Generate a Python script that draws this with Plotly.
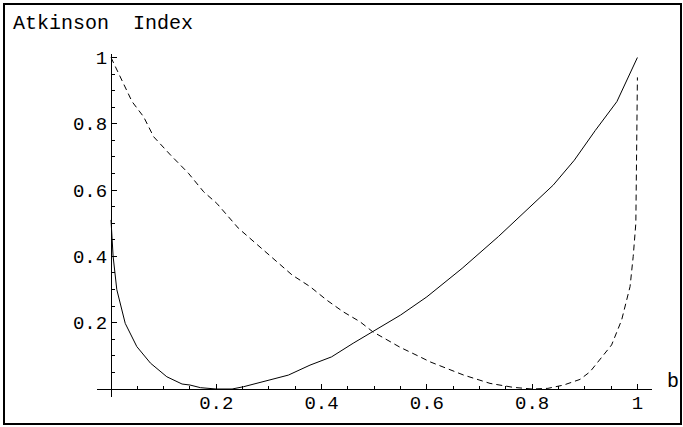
import plotly.graph_objects as go

# Solid curve
solid_b = [0, 0.004, 0.011, 0.027, 0.049, 0.075, 0.106, 0.135, 0.15, 0.17, 0.2, 0.23,
           0.252, 0.271, 0.302, 0.337, 0.378, 0.419, 0.46, 0.497, 0.55, 0.6, 0.667,
           0.736, 0.798, 0.84, 0.88, 0.92, 0.961, 1.0]
solid_a = [0.51, 0.40, 0.30, 0.198, 0.128, 0.078, 0.037, 0.015, 0.012, 0.004, 0.0, 0.0,
           0.007, 0.015, 0.027, 0.042, 0.072, 0.097, 0.138, 0.173, 0.223, 0.278, 0.364,
           0.46, 0.552, 0.615, 0.69, 0.78, 0.867, 1.0]

# Dashed curve
dashed_b = [0, 0.04, 0.062, 0.081, 0.113, 0.147, 0.176, 0.201, 0.242, 0.293, 0.344,
            0.378, 0.41, 0.441, 0.473, 0.497, 0.549, 0.587, 0.606, 0.67, 0.72, 0.764,
            0.80, 0.83, 0.86, 0.891, 0.91, 0.951, 0.97, 0.986, 0.992, 0.997, 1.0]
dashed_a = [1.0, 0.867, 0.821, 0.761, 0.706, 0.651, 0.595, 0.56, 0.485, 0.414, 0.344,
            0.309, 0.268, 0.233, 0.203, 0.173, 0.126, 0.097, 0.082, 0.042, 0.017, 0.005,
            0.0, 0.002, 0.012, 0.029, 0.052, 0.133, 0.208, 0.309, 0.40, 0.50, 0.94]

tick_vals = [0.2, 0.4, 0.6, 0.8, 1.0]
tick_text = ["0.2", "0.4", "0.6", "0.8", "1"]

x_range = [-0.0266, 1.0277]
y_range = [-0.0241, 1.0106]

FONT = "Liberation Mono, Courier New, monospace"

fig = go.Figure()
fig.add_trace(go.Scatter(x=solid_b, y=solid_a, mode="lines",
                         line=dict(color="black", width=1), showlegend=False))
fig.add_trace(go.Scatter(x=dashed_b, y=dashed_a, mode="lines",
                         line=dict(color="black", width=1, dash="6px,4px"), showlegend=False))

x_pos = (0 - y_range[0]) / (y_range[1] - y_range[0])
y_pos = (0 - x_range[0]) / (x_range[1] - x_range[0])

fig.update_layout(
    width=683, height=427,
    margin=dict(l=97, r=31, t=54, b=30, autoexpand=False),
    paper_bgcolor="white", plot_bgcolor="white",
    font=dict(family=FONT, size=19, color="black"),
    xaxis=dict(range=x_range, anchor="free", position=x_pos, showgrid=False,
               zeroline=False, showline=True, linecolor="black", linewidth=1,
               automargin=False, ticklabelstandoff=-4,
               tickmode="array", tickvals=tick_vals, ticktext=tick_text,
               ticks="inside", ticklen=5, tickcolor="black", tickwidth=1,
               minor=dict(dtick=0.05, tick0=0, ticks="inside", ticklen=3,
                          tickcolor="black", tickwidth=1, showgrid=False),
               tickfont=dict(family=FONT, size=19)),
    yaxis=dict(range=y_range, anchor="free", position=y_pos, showgrid=False,
               zeroline=False, showline=True, linecolor="black", linewidth=1,
               automargin=False,
               tickmode="array", tickvals=tick_vals, ticktext=tick_text,
               ticks="inside", ticklen=5, tickcolor="black", tickwidth=1,
               minor=dict(dtick=0.05, tick0=0, ticks="inside", ticklen=3,
                          tickcolor="black", tickwidth=1, showgrid=False),
               tickfont=dict(family=FONT, size=19)),
    annotations=[
        dict(text="Atkinson\u00a0\u00a0Index", xref="paper", yref="paper",
             x=(11 - 97) / 555, y=(397 - 23) / 343, xanchor="left", yanchor="middle",
             showarrow=False, font=dict(family=FONT, size=20, color="black")),
        dict(text="b", xref="paper", yref="y", x=(665 - 97) / 555, y=0,
             xanchor="left", yanchor="middle", yshift=8, showarrow=False,
             font=dict(family=FONT, size=20, color="black")),
    ],
    shapes=[
        dict(type="rect", xref="paper", yref="paper",
             x0=(4 - 97) / 555, x1=(681 - 97) / 555,
             y0=(397 - 424) / 343, y1=(397 - 4) / 343,
             line=dict(color="black", width=2), fillcolor="rgba(0,0,0,0)", layer="below"),
    ],
)

fig.write_html("out.html", config={"displayModeBar": False},
               post_script="document.body.style.margin='0';document.body.style.overflow='hidden';")
